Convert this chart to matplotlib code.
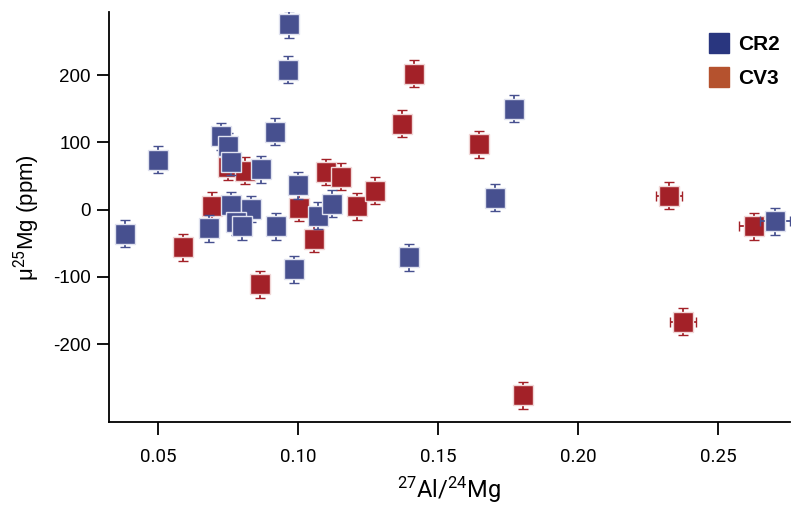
import matplotlib
matplotlib.use('Agg')
import matplotlib.pyplot as plt
from matplotlib.lines import Line2D

plt.rcParams['font.family'] = ['Liberation Sans', 'DejaVu Sans']
plt.rcParams['mathtext.fontset'] = 'custom'
plt.rcParams['mathtext.rm'] = 'Roboto'
plt.rcParams['mathtext.it'] = 'Roboto'
plt.rcParams['axes.unicode_minus'] = False

# CR2 chondrules
cr2_x = [0.0382, 0.0499, 0.0968, 0.0964, 0.0918, 0.0725, 0.0750, 0.0761, 0.0868,
         0.1000, 0.0761, 0.0832, 0.0682, 0.0779, 0.0800, 0.0921, 0.1071, 0.1121,
         0.0986, 0.1771, 0.1704, 0.1396, 0.2704]
cr2_y = [-36, 74, 276, 208, 116, 109, 94, 71, 60,
         36, 7, 1, -28, -18, -25, -25, -9, 9,
         -89, 150, 18, -71, -17]
cr2_xerr = [0.002] * 22 + [0.0054]
cr2_yerr = [20] * 23

# CV3 chondrules
cv3_x = [0.0589, 0.0693, 0.0864, 0.0750, 0.0811, 0.1004, 0.1057, 0.1100, 0.1154,
         0.1211, 0.1275, 0.1371, 0.1414, 0.1646, 0.2325, 0.2629, 0.2375, 0.1804]
cv3_y = [-56, 6, -111, 64, 58, 3, -43, 56, 49,
         5, 28, 128, 202, 97, 21, -25, -167, -276]
cv3_xerr = [0.002] * 14 + [0.0048, 0.0054, 0.0048, 0.002]
cv3_yerr = [20] * 18

cr2_color = '#47508f'
cv3_color = '#a32128'

fig = plt.figure(figsize=(8, 5.11), dpi=100)
ax = fig.add_axes([0.136, 0.174, 0.8515, 0.8025])

ax.errorbar(cv3_x, cv3_y, xerr=cv3_xerr, yerr=cv3_yerr, fmt='s', ms=14.6,
            mfc=cv3_color, mec='#f0d6d6', mew=1.0, ecolor=cv3_color,
            elinewidth=1.3, capsize=3.6, capthick=1.8, zorder=2)
ax.errorbar(cr2_x, cr2_y, xerr=cr2_xerr, yerr=cr2_yerr, fmt='s', ms=14.6,
            mfc=cr2_color, mec='#dfe1ef', mew=1.0, ecolor=cr2_color,
            elinewidth=1.3, capsize=3.6, capthick=1.8, zorder=3)

ax.set_xlim(0.0325, 0.2757)
ax.set_ylim(-316, 294)
ax.set_xticks([0.05, 0.10, 0.15, 0.20, 0.25])
ax.set_xticklabels(['0.05', '0.10', '0.15', '0.20', '0.25'],
                   family=['Roboto', 'DejaVu Sans'], fontsize=13.5)
ax.set_yticks([-200, -100, 0, 100, 200])
ax.tick_params(axis='y', labelsize=13.5, length=9, width=1.3, pad=4)
ax.tick_params(axis='x', length=9, width=1.3, pad=10)

for s in ['top', 'right']:
    ax.spines[s].set_visible(False)
for s in ['left', 'bottom']:
    ax.spines[s].set_linewidth(1.3)

ax.set_xlabel(r'$^{27}$Al/$^{24}$Mg', fontsize=17,
              family=['Roboto', 'DejaVu Sans'], labelpad=6)
ax.set_ylabel(r'μ$^{25}$Mg (ppm)', fontsize=16, labelpad=8)

handles = [Line2D([], [], ls='none', marker='s', ms=14.6, mfc='#29367f', mec='#29367f'),
           Line2D([], [], ls='none', marker='s', ms=14.6, mfc='#b5522e', mec='#b5522e')]
ax.legend(handles, ['CR2', 'CV3'], loc='upper right', bbox_to_anchor=(1.012, 0.99),
          frameon=False, prop={'weight': 'bold', 'size': 15},
          handletextpad=0.3, labelspacing=0.75, handlelength=1.2)

fig.savefig('out.png', dpi=100)
